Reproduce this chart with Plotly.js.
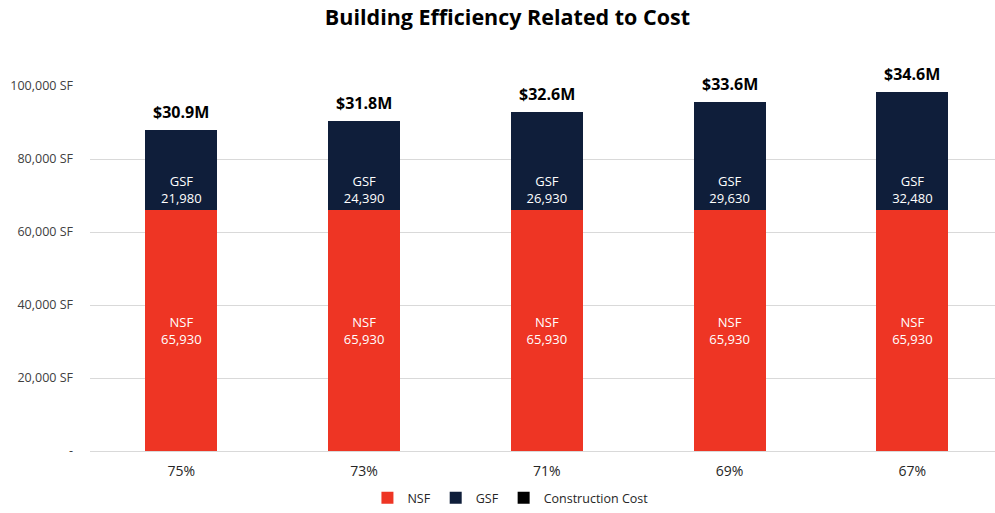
<!DOCTYPE html>
<html>
<head>
<meta charset="utf-8">
<script src="https://cdn.plot.ly/plotly-3.0.1.min.js"></script>
<style>html,body{margin:0;padding:0;background:#fff;}#chart{width:995px;height:513px;}</style>
</head>
<body>
<div id="chart"></div>
<script>
const categories = ["75%", "73%", "71%", "69%", "67%"];
const nsf = [65930, 65930, 65930, 65930, 65930];
const gsf = [21980, 24390, 26930, 29630, 32480];
const costLabels = ["$30.9M", "$31.8M", "$32.6M", "$33.6M", "$34.6M"];
const yTickVals = [0, 20000, 40000, 60000, 80000, 100000];
const yTickText = ["-", "20,000 SF", "40,000 SF", "60,000 SF", "80,000 SF", "100,000 SF"];

const fmt = v => v.toLocaleString("en-US");
const totals = nsf.map((v, i) => v + gsf[i]);
const font = "Open Sans, Liberation Sans, sans-serif";

const traces = [
  {
    type: "bar", name: "NSF", x: categories, y: nsf,
    marker: {color: "#EE3524"},
    text: nsf.map(v => "NSF<br>" + fmt(v)),
    textposition: "inside", insidetextanchor: "middle",
    textfont: {color: "#ffffff", size: 13, family: font},
    hoverinfo: "none"
  },
  {
    type: "bar", name: "GSF", x: categories, y: gsf,
    marker: {color: "#0F1E3A"},
    text: gsf.map(v => "GSF<br>" + fmt(v)),
    textposition: "inside", insidetextanchor: "start",
    textfont: {color: "#ffffff", size: 13, family: font},
    hoverinfo: "none"
  },
  {
    type: "bar", name: "Construction Cost", x: categories, y: categories.map(() => null),
    marker: {color: "#000000"}, hoverinfo: "none"
  }
];

const annotations = categories.map((c, i) => ({
  x: c, y: totals[i], xref: "x", yref: "y",
  text: costLabels[i], showarrow: false,
  yanchor: "bottom", yshift: 5,
  font: {color: "#000000", size: 16, family: font, weight: "bold"}
}));

const layout = {
  width: 995, height: 513,
  margin: {l: 90, r: 0, t: 86, b: 62, autoexpand: false},
  paper_bgcolor: "#ffffff", plot_bgcolor: "#ffffff",
  barmode: "stack", bargap: 0.605,
  title: {text: "Building Efficiency Related to Cost", x: 0.51, xanchor: "center", y: 0.965, yanchor: "middle",
          font: {size: 21.5, family: font, color: "#000000", weight: "bold"}},
  xaxis: {type: "category", range: [-0.5, 4.452], tickfont: {size: 14, family: font, color: "#262626"},
          showline: true, linecolor: "#d9d9d9", ticks: "", showgrid: false, ticklabelstandoff: 7},
  yaxis: {range: [0, 100000], tickvals: yTickVals, ticktext: yTickText,
          tickfont: {size: 12.5, family: font, color: "#404040"},
          showgrid: true, gridcolor: "#d9d9d9", zeroline: false, showline: false, ticks: "", ticklen: 0,
          ticklabelstandoff: 16},
  legend: {orientation: "h", x: 0.513, xanchor: "center", xref: "container", yref: "container", y: -0.008, yanchor: "bottom",
           font: {size: 12.5, family: font, color: "#262626"}, traceorder: "normal", itemwidth: 30},
  annotations: annotations,
  showlegend: true
};

Plotly.newPlot("chart", traces, layout, {displayModeBar: false, staticPlot: true});
</script>
</body>
</html>
